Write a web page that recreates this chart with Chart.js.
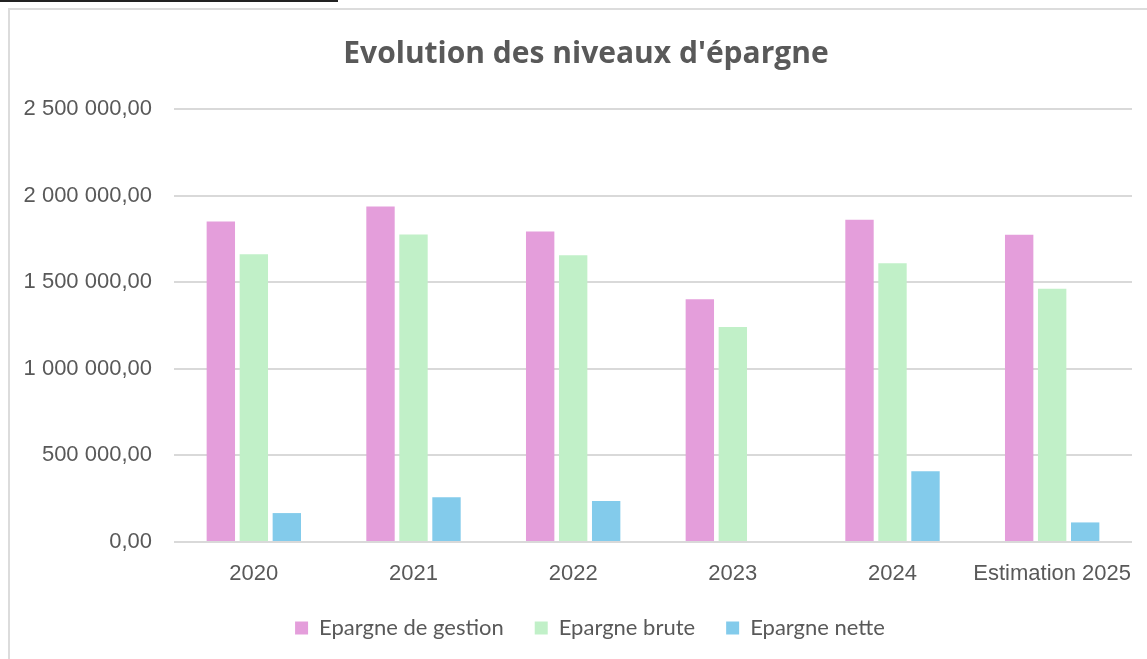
<!DOCTYPE html>
<html>
<head>
<meta charset="utf-8">
<script src="https://cdn.jsdelivr.net/npm/chart.js@4.4.1/dist/chart.umd.min.js"></script>
<style>
  html, body { margin: 0; padding: 0; background: #fff; overflow: hidden; }
  #wrap { position: relative; width: 1147px; height: 659px; overflow: hidden; }
  #topbar { position: absolute; left: 0; top: 0; width: 338px; height: 2px; background: #222; }
  #frame { position: absolute; left: 8px; top: 8px; width: 1160px; height: 680px; border: 2px solid #dcdcdc; }
  #myChart { position: absolute; left: 0; top: 0; }
</style>
</head>
<body>
<div id="wrap">
  <div id="topbar"></div>
  <div id="frame"></div>
  <canvas id="myChart" width="1147" height="649"></canvas>
</div>
<script>
// valeurs
var years = ['2020', '2021', '2022', '2023', '2024', 'Estimation 2025'];
var epargneGestion = [1850000, 1937000, 1793000, 1402000, 1860000, 1774000];
var epargneBrute   = [1661000, 1776000, 1655000, 1241000, 1609000, 1462000];
var epargneNette   = [167000, 259000, 236000, null, 408000, 113000];
var yTicks = [0, 500000, 1000000, 1500000, 2000000, 2500000];

function formatFr(v) {
    var parts = v.toFixed(2).split('.');
    var ent = parts[0].replace(/\B(?=(\d{3})+(?!\d))/g, ' ');
    return ent + ',' + parts[1];
}

// decale un peu le titre et la legende vers la droite, comme dans Excel
var decalage = {
    id: 'decalage',
    afterLayout: function (chart) {
        chart.legend.left += 14;
        chart.legend.right += 14;
        chart.titleBlock.left += 10;
        chart.titleBlock.right += 10;
    }
};

var ctx = document.getElementById('myChart').getContext('2d');
var myChart = new Chart(ctx, {
    type: 'bar',
    data: {
        labels: years,
        datasets: [{
            label: 'Epargne de gestion',
            data: epargneGestion,
            backgroundColor: '#e49edb'
        }, {
            label: 'Epargne brute',
            data: epargneBrute,
            backgroundColor: '#c1f0c8'
        }, {
            label: 'Epargne nette',
            data: epargneNette,
            backgroundColor: '#83cbeb'
        }]
    },
    plugins: [decalage],
    options: {
        responsive: false,
        animation: false,
        categoryPercentage: 0.62,
        barPercentage: 0.86,
        layout: { padding: { left: 20, right: 15, top: 0, bottom: 0 } },
        plugins: {
            title: {
                display: true,
                text: "Evolution des niveaux d'épargne",
                color: '#595959',
                font: { family: 'Open Sans', size: 30, weight: 'bold' },
                padding: { top: 36, bottom: 37 }
            },
            legend: {
                position: 'bottom',
                labels: {
                    color: '#595959',
                    font: { family: 'Lato', size: 22 },
                    boxWidth: 13,
                    boxHeight: 13,
                    padding: 31
                }
            },
            tooltip: { enabled: false }
        },
        scales: {
            x: {
                afterFit: function (scale) { scale.height = 44; },
                grid: { display: false },
                border: { display: false },
                ticks: {
                    color: '#595959',
                    font: { family: 'Liberation Sans', size: 22 },
                    padding: 11,
                    maxRotation: 0,
                    autoSkip: false
                }
            },
            y: {
                min: 0,
                max: 2500000,
                afterFit: function (scale) { scale.width = 154; },
                afterBuildTicks: function (scale) {
                    scale.ticks = yTicks.map(function (v) { return { value: v }; });
                },
                grid: { color: '#d9d9d9', lineWidth: 2, drawTicks: false },
                border: { display: false },
                ticks: {
                    color: '#595959',
                    font: { family: 'Liberation Sans', size: 22 },
                    padding: 22,
                    callback: function (v) { return formatFr(v); }
                }
            }
        }
    }
});
</script>
</body>
</html>
